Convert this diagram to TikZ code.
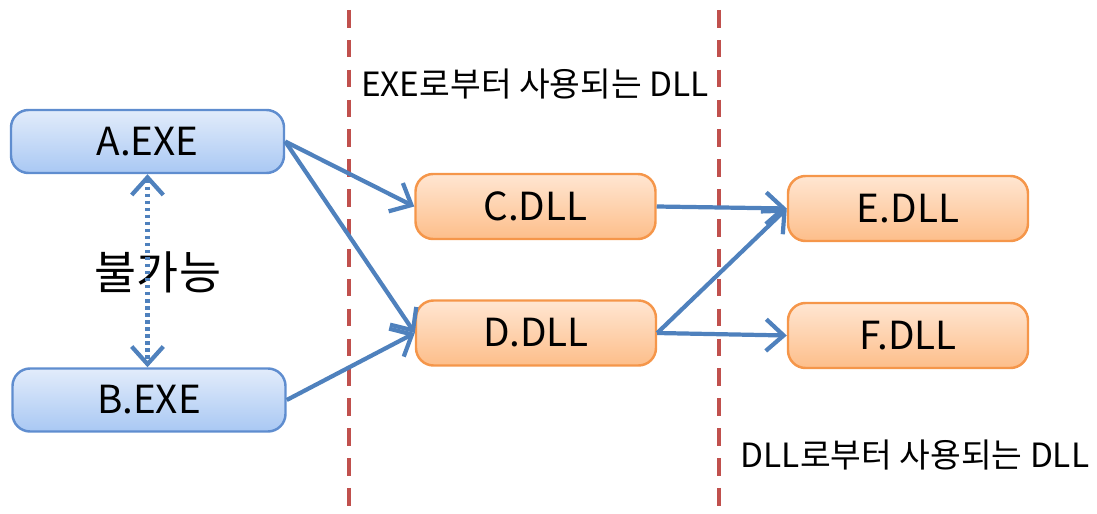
\documentclass[tikz,border=0pt]{standalone}
\usepackage{fontspec}
\setmainfont{Noto Sans CJK KR}
\usetikzlibrary{arrows.meta}

\definecolor{exeFillTop}{HTML}{E2ECFB}
\definecolor{exeFillBot}{HTML}{A9C8F3}
\definecolor{exeStroke}{HTML}{5F8DCF}
\definecolor{dllFillTop}{HTML}{FFE6D2}
\definecolor{dllFillBot}{HTML}{FDBE8A}
\definecolor{dllStroke}{HTML}{F5964A}
\definecolor{linkBlue}{HTML}{4F81BD}
\definecolor{sepRed}{HTML}{C0504D}

\begin{document}
\begin{tikzpicture}[
  font=\fontsize{11}{13}\selectfont,
  exe/.style={rounded corners=5pt, draw=exeStroke, line width=0.7pt,
              top color=exeFillTop, bottom color=exeFillBot,
              minimum width=2.73cm, minimum height=0.63cm, inner sep=0pt},
  dll/.style={rounded corners=5pt, draw=dllStroke, line width=0.7pt,
              top color=dllFillTop, bottom color=dllFillBot,
              minimum width=2.40cm, minimum height=0.65cm, inner sep=0pt},
  barb/.tip={Straight Barb[length=5pt, width=9pt, line width=1.2pt]},
  link/.style={-barb, linkBlue, line width=1.2pt},
  sep/.style={sepRed, line width=1.2pt, dash pattern=on 5pt off 3.5pt},
  note/.style={font=\fontsize{9.5}{11}\selectfont}
]
  \useasboundingbox (0,0) rectangle (10.97,-5.14);

  % ---- separators ----
  \coordinate (s1top) at (3.49,-0.10);
  \coordinate (s1bot) at (3.49,-5.14);
  \coordinate (s2top) at (7.19,-0.10);
  \coordinate (s2bot) at (7.19,-5.14);
  \draw[sep] (s1top) -- (s1bot);
  \draw[sep] (s2top) -- (s2bot);

  % ---- executables ----
  \node[exe] (aexe) at (1.475,-1.415) {A.EXE};
  \node[exe] (bexe) at (1.49,-4.00) {B.EXE};

  % ---- libraries ----
  \node[dll] (cdll) at (5.355,-2.065) {C.DLL};
  \node[dll] (ddll) at (5.36,-3.33) {D.DLL};
  \node[dll] (edll) at (9.08,-2.085) {E.DLL};
  \node[dll] (fdll) at (9.08,-3.355) {F.DLL};

  % ---- labels ----
  \node[note] (exeuse) at (5.35,-0.84) {EXE로부터 사용되는 DLL};
  \node[note] (dlluse) at (9.15,-4.55) {DLL로부터 사용되는 DLL};
  \node[font=\fontsize{13}{15}\selectfont] (nogo) at (1.58,-2.72) {불가능};

  % ---- links ----
  \draw[link] (aexe.east) -- (cdll.west);
  \draw[link] (aexe.east) -- (ddll.west);
  \draw[link] (bexe.east) -- (ddll.west);
  \draw[link] (cdll.east) -- (edll.west);
  \draw[link] (ddll.east) -- (edll.west);
  \draw[link] (ddll.east) -- (fdll.west);

  % ---- not possible ----
  \draw[barb-barb, linkBlue, line width=1.3pt, dash pattern=on 1pt off 1pt]
        (aexe.south) -- (aexe.south |- bexe.north);
\end{tikzpicture}
\end{document}
